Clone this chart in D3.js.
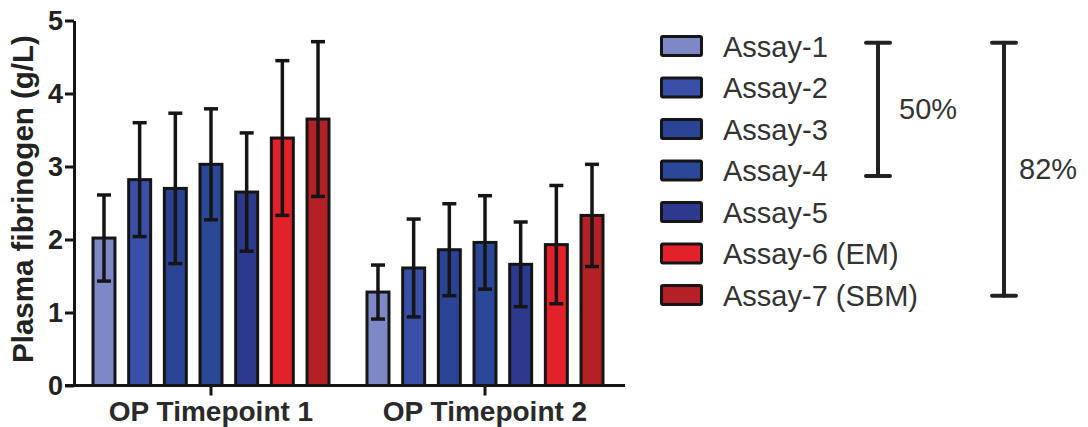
<!DOCTYPE html>
<html>
<head>
<meta charset="utf-8">
<script src="https://cdn.jsdelivr.net/npm/d3@7"></script>
<style>
  html, body { margin: 0; padding: 0; background: #ffffff; }
  svg { display: block; font-family: "Liberation Sans", Arial, Helvetica, sans-serif; }
</style>
</head>
<body>
<svg id="chart" width="1088" height="427"></svg>
<script>
// Timepoints on the x axis
const timepoints = ["OP Timepoint 1", "OP Timepoint 2"];

// Assays (one bar per assay within each timepoint)
const assays = ["Assay-1", "Assay-2", "Assay-3", "Assay-4", "Assay-5", "Assay-6 (EM)", "Assay-7 (SBM)"];
const assayColors = ["#7f88c6", "#3a4fa7", "#2b4395", "#2b4798", "#2d398c", "#e2212a", "#b32127"];

// Mean plasma fibrinogen (g/L) per assay, per timepoint
const meansT1 = [2.02, 2.82, 2.70, 3.03, 2.65, 3.39, 3.65];
const meansT2 = [1.28, 1.61, 1.86, 1.96, 1.66, 1.93, 2.33];

// Standard deviation (error bar half-length)
const sdT1 = [0.59, 0.78, 1.03, 0.76, 0.81, 1.06, 1.06];
const sdT2 = [0.37, 0.67, 0.63, 0.64, 0.58, 0.81, 0.70];

// y axis ticks
const yTicks = [0, 1, 2, 3, 4, 5];

// Brackets beside the legend: spans in legend-row units
const bracketLabels = ["50%", "82%"];
const bracketSpans = [[-0.08, 3.13], [-0.08, 6.02]];

const svg = d3.select("#chart");

const y = d3.scaleLinear().domain([0, 5]).range([385.5, 20.5]);
const x0 = d3.scaleBand().domain(timepoints).range([74, 622]);
const groupHalf = 119.5;
const x1 = d3.scaleBand().domain(assays)
  .range([x0.bandwidth() / 2 - groupHalf, x0.bandwidth() / 2 + groupHalf])
  .paddingInner(0.3);

const rows = timepoints.map((t, ti) => assays.map((a, ai) => ({
  t, a, ai,
  mean: ti === 0 ? meansT1[ai] : meansT2[ai],
  sd: ti === 0 ? sdT1[ai] : sdT2[ai]
}))).flat();

const ink = "#151515";
const barStroke = 3;

// Bars
const bars = svg.append("g");
bars.selectAll("rect").data(rows).join("rect")
  .attr("x", d => x0(d.t) + x1(d.a) + barStroke / 2)
  .attr("width", x1.bandwidth() - barStroke)
  .attr("y", d => y(d.mean))
  .attr("height", d => y(0) - y(d.mean))
  .attr("fill", d => assayColors[d.ai])
  .attr("stroke", ink)
  .attr("stroke-width", barStroke);

// Error bars
const capHalf = 7;
const err = svg.append("g").attr("stroke", ink).attr("stroke-width", 3.5).attr("fill", "none");
rows.forEach(d => {
  const cx = x0(d.t) + x1(d.a) + x1.bandwidth() / 2;
  const yt = y(d.mean + d.sd), yb = y(d.mean - d.sd);
  err.append("line").attr("x1", cx).attr("x2", cx).attr("y1", yt).attr("y2", yb);
  err.append("line").attr("x1", cx - capHalf).attr("x2", cx + capHalf).attr("y1", yt).attr("y2", yt);
  err.append("line").attr("x1", cx - capHalf).attr("x2", cx + capHalf).attr("y1", yb).attr("y2", yb);
});

// Y axis
const yAxis = svg.append("g").attr("transform", "translate(74,0)")
  .call(d3.axisLeft(y).tickValues(yTicks).tickFormat(d3.format("d")).tickSize(9).tickSizeOuter(0).tickPadding(2));
yAxis.select(".domain").attr("stroke", ink).attr("stroke-width", 3);
yAxis.selectAll(".tick line").attr("stroke", ink).attr("stroke-width", 3);
yAxis.selectAll(".tick text")
  .attr("font-size", 27).attr("font-weight", "bold").attr("fill", "#222")
  .attr("font-family", "Liberation Sans, Arial, sans-serif");

// X axis
const xAxis = svg.append("g").attr("transform", `translate(0,${y(0)})`)
  .call(d3.axisBottom(x0).tickSize(10).tickSizeOuter(0).tickPadding(6));
xAxis.select(".domain").remove();
xAxis.selectAll(".tick line").attr("stroke", ink).attr("stroke-width", 3);
xAxis.selectAll(".tick text")
  .attr("font-size", 28).attr("font-weight", "bold").attr("fill", "#2a2a2a")
  .attr("font-family", "Liberation Sans, Arial, sans-serif");
svg.append("line")
  .attr("x1", 65).attr("x2", 625).attr("y1", y(0)).attr("y2", y(0))
  .attr("stroke", ink).attr("stroke-width", 3);

// Y axis title
svg.append("text")
  .attr("transform", `translate(33,${(y(0) + y(5)) / 2 - 4}) rotate(-90)`)
  .attr("text-anchor", "middle")
  .attr("font-size", 29.5).attr("font-weight", "bold").attr("fill", "#222")
  .text("Plasma fibrinogen (g/L)");

// Legend
const legendY = d3.scaleLinear().domain([0, 6]).range([46, 295]);
const legend = svg.append("g");
const lg = legend.selectAll("g").data(assays).join("g")
  .attr("transform", (d, i) => `translate(660,${legendY(i)})`);
lg.append("rect")
  .attr("x", 1.5).attr("y", -9.5).attr("width", 40).attr("height", 19)
  .attr("rx", 1.5)
  .attr("fill", (d, i) => assayColors[i])
  .attr("stroke", ink).attr("stroke-width", 3);
lg.append("text")
  .attr("x", 63).attr("y", 10.5)
  .attr("font-size", 29).attr("fill", "#333")
  .text(d => d);

// Brackets
const bracketX = [878, 1004];
const labelDx = [21, 15];
const br = svg.append("g");
bracketLabels.forEach((lab, i) => {
  const yt = legendY(bracketSpans[i][0]), yb = legendY(bracketSpans[i][1]);
  const cx = bracketX[i];
  const g = br.append("g").attr("stroke", "#222").attr("stroke-width", 4).attr("stroke-linecap", "round");
  g.append("line").attr("x1", cx).attr("x2", cx).attr("y1", yt).attr("y2", yb);
  g.append("line").attr("x1", cx - 12).attr("x2", cx + 12).attr("y1", yt).attr("y2", yt);
  g.append("line").attr("x1", cx - 12).attr("x2", cx + 12).attr("y1", yb).attr("y2", yb);
  br.append("text")
    .attr("x", cx + labelDx[i]).attr("y", (yt + yb) / 2 + 10)
    .attr("font-size", 29).attr("fill", "#333")
    .text(lab);
});
</script>
</body>
</html>
